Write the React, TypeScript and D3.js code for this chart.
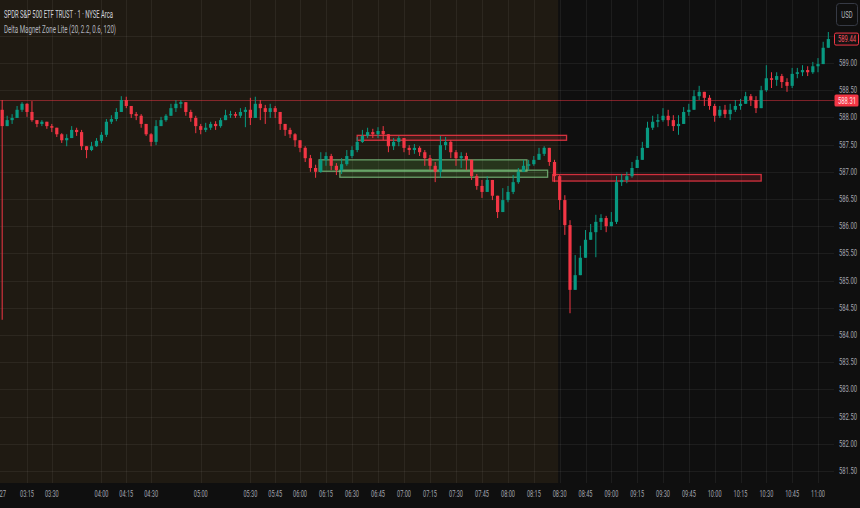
import { useMemo } from "react";
import * as d3 from "d3";

const WIDTH = 860;
const HEIGHT = 508;
const PLOT_RIGHT = 834;
const AXIS_TOP = 483;

// 3-minute bars starting 03:00
const START_MIN = 180;
const BAR_MIN = 3;
const FIRST_OPEN = 588.14;

const closes = [
  587.84, 587.95, 587.99, 588.14, 588.25, 588.1, 587.95, 587.88, 587.92, 587.84,
  587.81, 587.69, 587.58, 587.62, 587.77, 587.73, 587.47, 587.4, 587.47, 587.57,
  587.68, 587.92, 587.97, 588.1, 588.32, 588.21, 588.06, 588.03, 587.88, 587.69,
  587.55, 587.84, 587.95, 588.03, 588.17, 588.25, 588.28, 588.1, 587.99, 587.84,
  587.77, 587.81, 587.88, 587.84, 587.95, 588.04, 588.06, 588.03, 588.1, 588.14,
  587.99, 588.25, 588.17, 588.1, 588.17, 588.1, 587.88, 587.77, 587.69, 587.58,
  587.44, 587.25, 587.07, 587.0, 587.22, 587.29, 587.11, 587.03, 587.14, 587.29,
  587.4, 587.55, 587.66, 587.73, 587.69, 587.75, 587.69, 587.47, 587.55, 587.62,
  587.44, 587.4, 587.44, 587.36, 587.25, 587.11, 587.0, 587.49, 587.55, 587.36,
  587.25, 587.29, 587.22, 586.92, 586.74, 586.63, 586.85, 586.56, 586.26, 586.48,
  586.63, 586.81, 587.0, 587.11, 587.14, 587.22, 587.33, 587.44, 587.18, 586.92,
  586.48, 586.02, 584.83, 585.1, 585.42, 585.75, 585.89, 586.08, 586.15, 586.0,
  586.08, 586.81, 586.85, 586.92, 587.07, 587.22, 587.44, 587.81, 587.92, 587.95,
  588.03, 587.95, 587.84, 587.88, 588.1, 588.14, 588.39, 588.47, 588.36, 588.21,
  588.03, 588.14, 588.06, 588.14, 588.21, 588.25, 588.39, 588.32, 588.17, 588.5,
  588.72, 588.69, 588.76, 588.65, 588.58, 588.8, 588.83, 588.87, 588.83, 588.94,
  588.98, 589.28, 589.44,
];

const highs = [
  588.32, 588.03, 588.06, 588.21, 588.28, 588.26, 588.3, 587.95, 587.95, 587.92,
  587.88, 587.81, 587.71, 587.69, 587.84, 587.81, 587.77, 587.47, 587.55, 587.62,
  587.73, 587.97, 588.04, 588.17, 588.39, 588.38, 588.21, 588.1, 588.06, 587.88,
  587.71, 587.95, 588.01, 588.06, 588.25, 588.32, 588.32, 588.28, 588.14, 588.03,
  587.88, 587.9, 587.92, 587.93, 587.99, 588.14, 588.12, 588.1, 588.17, 588.19,
  588.36, 588.38, 588.32, 588.23, 588.25, 588.21, 588.03, 587.84, 587.81, 587.71,
  587.58, 587.47, 587.31, 587.13, 587.36, 587.36, 587.33, 587.16, 587.25, 587.4,
  587.47, 587.64, 587.77, 587.81, 587.79, 587.82, 587.84, 587.69, 587.62, 587.66,
  587.62, 587.49, 587.51, 587.47, 587.4, 587.31, 587.18, 587.66, 587.64, 587.58,
  587.4, 587.36, 587.35, 587.22, 586.96, 586.85, 586.92, 586.81, 586.56, 586.7,
  586.74, 586.94, 587.07, 587.22, 587.22, 587.29, 587.44, 587.47, 587.44, 587.22,
  586.94, 586.57, 586.11, 585.47, 585.64, 585.93, 586.04, 586.21, 586.22, 586.19,
  586.26, 586.92, 586.96, 587.0, 587.18, 587.29, 587.55, 587.92, 588.03, 588.06,
  588.17, 588.14, 588.04, 588.04, 588.19, 588.25, 588.5, 588.58, 588.47, 588.41,
  588.25, 588.21, 588.23, 588.25, 588.32, 588.34, 588.47, 588.43, 588.39, 588.58,
  588.96, 588.83, 588.83, 588.8, 588.72, 588.91, 588.91, 588.96, 588.94, 589.02,
  589.09, 589.39, 589.57,
];

const lows = [
  584.28, 587.84, 587.88, 587.99, 588.1, 588.01, 587.92, 587.82, 587.84, 587.79,
  587.73, 587.64, 587.53, 587.47, 587.62, 587.66, 587.4, 587.25, 587.38, 587.46,
  587.53, 587.64, 587.88, 587.93, 588.14, 588.17, 587.99, 587.95, 587.81, 587.66,
  587.47, 587.49, 587.88, 587.92, 588.06, 588.1, 588.17, 588.03, 587.92, 587.71,
  587.69, 587.73, 587.77, 587.77, 587.81, 587.95, 587.99, 587.99, 587.99, 587.82,
  587.86, 588.1, 587.95, 587.88, 587.99, 587.99, 587.77, 587.66, 587.62, 587.46,
  587.36, 587.18, 587.0, 586.89, 586.98, 587.11, 587.03, 586.94, 586.96, 587.11,
  587.25, 587.36, 587.53, 587.62, 587.62, 587.62, 587.58, 587.36, 587.4, 587.47,
  587.36, 587.31, 587.33, 587.29, 587.11, 587.03, 586.81, 586.89, 587.4, 587.25,
  587.11, 587.07, 587.03, 586.85, 586.67, 586.52, 586.67, 586.48, 586.15, 586.26,
  586.44, 586.59, 586.78, 587.0, 587.03, 587.11, 587.22, 587.29, 587.11, 586.81,
  586.3, 585.84, 584.4, 584.83, 585.1, 585.47, 585.75, 585.43, 585.93, 585.89,
  586.0, 586.04, 586.74, 586.79, 586.89, 587.07, 587.22, 587.47, 587.77, 587.82,
  587.92, 587.84, 587.75, 587.68, 587.92, 588.03, 588.21, 588.32, 588.21, 588.14,
  587.92, 587.99, 587.99, 587.95, 588.1, 588.14, 588.25, 588.21, 588.08, 588.32,
  588.47, 588.54, 588.58, 588.54, 588.47, 588.54, 588.72, 588.76, 588.76, 588.8,
  588.83, 589.06, 589.31,
];

const timeTicks = [
  "03:15", "03:30", "04:00", "04:15", "04:30", "05:00", "05:30", "05:45",
  "06:00", "06:15", "06:30", "06:45", "07:00", "07:15", "07:30", "07:45",
  "08:00", "08:15", "08:30", "08:45", "09:00", "09:15", "09:30", "09:45",
  "10:00", "10:15", "10:30", "10:45", "11:00",
];
const DAY_LABEL = "27";
const priceTicks = [
  581.5, 582, 582.5, 583, 583.5, 584, 584.5, 585, 585.5, 586, 586.5, 587,
  587.5, 588, 588.5, 589,
];
const gridPrices = [...priceTicks, 589.5];

const SESSION_OPEN = "08:30";
const LAST_PRICE = 589.44;
const MAGNET_LEVEL = 588.31;

// Delta Magnet zones
const zoneKinds = ["supply", "demand", "demand", "supply"];
const zoneTops = [587.67, 587.22, 587.03, 586.95];
const zoneBottoms = [587.58, 587.01, 586.9, 586.83];
const zoneStarts = ["06:33", "06:11", "06:23", "08:26"];
const zoneEnds = ["08:34", "08:11", "08:23", "10:27"];

const TITLE = "SPDR S&P 500 ETF TRUST · 1 · NYSE Arca";
const SUBTITLE = "Delta Magnet Zone Lite (20, 2.2, 0.6, 120)";

const UP = "#089981";
const DOWN = "#f23645";
const FONT = "Roboto, 'Noto Sans', sans-serif";

const toMin = (s: string) => {
  const [h, m] = s.split(":").map(Number);
  return h * 60 + m;
};

// TradingView's axis font is condensed; squeeze Roboto horizontally
function Narrow({ x, y, s = 0.65, anchor = "start", size = 9, fill, children }: any) {
  return (
    <text
      transform={`translate(${x},${y}) scale(${s},1)`}
      textAnchor={anchor}
      dominantBaseline="central"
      fontSize={size}
      fill={fill}
    >
      {children}
    </text>
  );
}

export default function App() {
  // premarket bars are sparser, so the time axis is slightly compressed there
  const x = useMemo(
    () => d3.scaleLinear().domain([195, 360, 480, 660]).range([27, 300, 508, 818]),
    []
  );
  const y = useMemo(
    () => d3.scaleLinear().domain([581.5, 589]).range([471, 63]),
    []
  );

  const bars = closes.map((c, i) => {
    const o = i === 0 ? FIRST_OPEN : closes[i - 1];
    return {
      t: START_MIN + i * BAR_MIN,
      o,
      c,
      h: Math.max(highs[i], o, c),
      l: Math.min(lows[i], o, c),
    };
  });

  const sessionX = x(toMin(SESSION_OPEN)) - 1.5;
  const bodyW = 3.2;
  const axisColor = "#a3a6af";

  return (
    <div style={{ position: "fixed", left: 0, top: 0 }}>
      <svg width={WIDTH} height={HEIGHT} style={{ display: "block" }} fontFamily={FONT}>
        <defs>
          <clipPath id="plot">
            <rect x={0} y={0} width={PLOT_RIGHT} height={AXIS_TOP} />
          </clipPath>
        </defs>
        <rect width={WIDTH} height={HEIGHT} fill="#0f0f0f" />
        <rect x={0} y={0} width={sessionX} height={AXIS_TOP} fill="#1f1a12" />

        {/* grid */}
        <g stroke="rgba(255,255,255,0.06)" strokeWidth={1}>
          {gridPrices.map((p) => (
            <line key={p} x1={0} x2={PLOT_RIGHT} y1={Math.round(y(p)) + 0.5} y2={Math.round(y(p)) + 0.5} />
          ))}
          {timeTicks.map((t) => (
            <line key={t} x1={Math.round(x(toMin(t))) + 0.5} x2={Math.round(x(toMin(t))) + 0.5} y1={0} y2={AXIS_TOP} />
          ))}
        </g>

        <g clipPath="url(#plot)">
          {/* magnet level */}
          <line
            x1={0}
            x2={PLOT_RIGHT}
            y1={y(MAGNET_LEVEL)}
            y2={y(MAGNET_LEVEL)}
            stroke="rgba(242,54,69,0.5)"
            strokeWidth={1}
          />

          {/* zones */}
          {zoneKinds.map((k, i) => {
            const x0 = x(toMin(zoneStarts[i]));
            const x1 = x(toMin(zoneEnds[i]));
            const y0 = y(zoneTops[i]);
            const y1 = y(zoneBottoms[i]);
            const demand = k === "demand";
            return (
              <rect
                key={i}
                x={x0}
                y={y0}
                width={x1 - x0}
                height={y1 - y0}
                fill={demand ? "rgba(76,175,80,0.18)" : "rgba(242,54,69,0.16)"}
                stroke={demand ? "rgba(129,199,132,0.75)" : "rgba(242,54,69,0.85)"}
                strokeWidth={1.3}
              />
            );
          })}

          {/* candles */}
          {bars.map((b) => {
            const cx = x(b.t);
            const color = b.c >= b.o ? UP : DOWN;
            const top = y(Math.max(b.o, b.c));
            const bot = y(Math.min(b.o, b.c));
            return (
              <g key={b.t}>
                <line x1={cx} x2={cx} y1={y(b.h)} y2={y(b.l)} stroke={color} strokeWidth={1} />
                <rect x={cx - bodyW / 2} y={top} width={bodyW} height={Math.max(1, bot - top)} fill={color} />
              </g>
            );
          })}
        </g>

        {/* legend */}
        <text x={4} y={18} fontSize={10} fill="#d1d4dc" textLength={109} lengthAdjust="spacingAndGlyphs">
          {TITLE}
        </text>
        <text x={4} y={33} fontSize={10} fill="#b2b5be" textLength={112} lengthAdjust="spacingAndGlyphs">
          {SUBTITLE}
        </text>

        {/* price axis */}
        {priceTicks.map((p) => (
          <Narrow key={p} x={839} y={y(p)} fill={axisColor}>
            {p.toFixed(2)}
          </Narrow>
        ))}
        <rect x={834.5} y={y(MAGNET_LEVEL) - 6} width={24} height={12} rx={1.5} fill={DOWN} />
        <Narrow x={838} y={y(MAGNET_LEVEL)} fill="#fde4e6">
          {MAGNET_LEVEL.toFixed(2)}
        </Narrow>
        <rect x={834.5} y={y(LAST_PRICE) - 6} width={24} height={12} rx={1.5} fill="#131313" stroke={DOWN} strokeWidth={1} />
        <Narrow x={838} y={y(LAST_PRICE)} fill="#f7525f">
          {LAST_PRICE.toFixed(2)}
        </Narrow>

        {/* currency */}
        <rect x={836.5} y={3.5} width={21} height={22} rx={3} fill="none" stroke="#363a45" />
        <Narrow x={847} y={15} s={0.7} size={8.5} anchor="middle" fill="#b2b5be">
          USD
        </Narrow>

        {/* time axis */}
        <Narrow x={6} y={494} anchor="end" fill={axisColor}>
          {DAY_LABEL}
        </Narrow>
        {timeTicks.map((t) => (
          <Narrow key={t} x={x(toMin(t))} y={494} s={0.62} anchor="middle" fill={axisColor}>
            {t}
          </Narrow>
        ))}
      </svg>
    </div>
  );
}
